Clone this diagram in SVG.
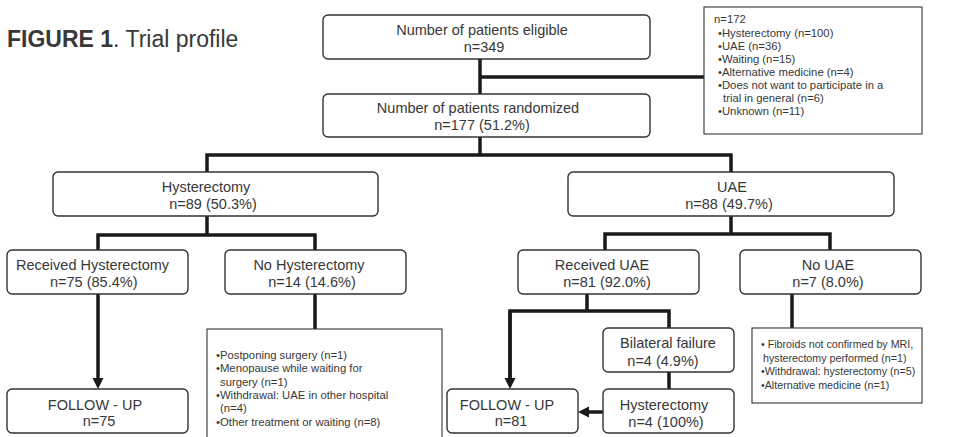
<svg xmlns="http://www.w3.org/2000/svg" width="973" height="437" viewBox="0 0 973 437">
<style>
  text { font-family: "Liberation Sans", Arial, sans-serif; fill: #383838; }
  .t { font-size: 14.5px; text-anchor: middle; }
  .ts { font-size: 14.5px; }
  .i { font-size: 11.3px; }
  .r { font-size: 10.7px; }
  .box { fill: #fff; stroke: #333; stroke-width: 1.4; }
  .ibox { fill: #fff; stroke: #333; stroke-width: 1.1; }
  .c { fill: none; stroke: #1a1a1a; stroke-width: 3.5; }
</style>
<defs>
  <marker id="arr" markerUnits="userSpaceOnUse" markerWidth="12" markerHeight="12" refX="0" refY="5.5" orient="auto">
    <path d="M0,0 L11,5.5 L0,11 z" fill="#1a1a1a"/>
  </marker>
</defs>
<rect width="973" height="437" fill="#fff"/>

<text x="7" y="47" style="font-size:23px"><tspan font-weight="bold">FIGURE 1</tspan><tspan>. Trial profile</tspan></text>

<g id="connectors">
  <path class="c" d="M480 59 V94"/>
  <path class="c" d="M480 77 H704"/>
  <path class="c" d="M480 137 V155"/>
  <path class="c" d="M207 172 V155 H731 V172"/>
  <path class="c" d="M207 216 V235"/>
  <path class="c" d="M98 250 V235 H315 V250"/>
  <path class="c" d="M731 216 V234"/>
  <path class="c" d="M605 250 V234 H830 V250"/>
  <path class="c" d="M98 294 V378" marker-end="url(#arr)"/>
  <path class="c" d="M315 294 V329"/>
  <path class="c" d="M587 294 V311"/>
  <path class="c" d="M510 378 V311 H669 V328"/>
  <path class="c" d="M510 311 V378" marker-end="url(#arr)"/>
  <path class="c" d="M669 372 V389"/>
  <path class="c" d="M603 412 H589" marker-end="url(#arr)"/>
  <path class="c" d="M792 294 V328"/>
</g>

<g id="eligible">
  <rect class="box" x="323" y="15" width="327" height="44" rx="5"/>
  <text class="t" x="482" y="35">Number of patients eligible</text>
  <text class="t" x="484" y="52">n=349</text>
</g>

<g id="excluded">
  <rect class="ibox" x="704" y="7" width="218" height="127"/>
  <text class="i" x="714" y="23">n=172</text>
  <text class="i" x="718" y="37">•Hysterectomy (n=100)</text>
  <text class="i" x="718" y="50">•UAE (n=36)</text>
  <text class="i" x="718" y="63">•Waiting (n=15)</text>
  <text class="i" x="718" y="76">•Alternative medicine (n=4)</text>
  <text class="i" x="718" y="89">•Does not want to participate in a</text>
  <text class="i" x="723" y="102">trial in general (n=6)</text>
  <text class="i" x="718" y="115">•Unknown (n=11)</text>
</g>

<g id="randomized">
  <rect class="box" x="323" y="94" width="327" height="43" rx="5"/>
  <text class="t" x="478" y="113">Number of patients randomized</text>
  <text class="t" x="482" y="130">n=177 (51.2%)</text>
</g>

<g id="hysterectomy">
  <rect class="box" x="53" y="172" width="325" height="44" rx="5"/>
  <text class="t" x="206" y="192">Hysterectomy</text>
  <text class="t" x="213" y="209">n=89 (50.3%)</text>
</g>

<g id="uae">
  <rect class="box" x="568" y="172" width="326" height="44" rx="5"/>
  <text class="t" x="732" y="192">UAE</text>
  <text class="t" x="729" y="209">n=88 (49.7%)</text>
</g>

<g id="received-hysterectomy">
  <rect class="box" x="7" y="250" width="181" height="44" rx="5"/>
  <text class="ts" x="16" y="270">Received Hysterectomy</text>
  <text class="ts" x="50" y="287">n=75 (85.4%)</text>
</g>

<g id="no-hysterectomy">
  <rect class="box" x="225" y="250" width="181" height="44" rx="5"/>
  <text class="t" x="309" y="270">No Hysterectomy</text>
  <text class="t" x="312" y="287">n=14 (14.6%)</text>
</g>

<g id="received-uae">
  <rect class="box" x="518" y="250" width="181" height="44" rx="5"/>
  <text class="t" x="602" y="270">Received UAE</text>
  <text class="t" x="607" y="287">n=81 (92.0%)</text>
</g>

<g id="no-uae">
  <rect class="box" x="740" y="250" width="181" height="44" rx="5"/>
  <text class="t" x="828" y="270">No UAE</text>
  <text class="t" x="828" y="287">n=7 (8.0%)</text>
</g>

<g id="no-hysterectomy-reasons">
  <rect class="ibox" x="207" y="329" width="235" height="120"/>
  <text class="i" x="216" y="359">•Postponing surgery (n=1)</text>
  <text class="i" x="216" y="372">•Menopause while waiting for</text>
  <text class="i" x="220" y="386">surgery (n=1)</text>
  <text class="i" x="216" y="399">•Withdrawal: UAE in other hospital</text>
  <text class="i" x="220" y="412">(n=4)</text>
  <text class="i" x="216" y="426">•Other treatment or waiting  (n=8)</text>
</g>

<g id="follow-up-hysterectomy">
  <rect class="box" x="7" y="389" width="181" height="44" rx="5"/>
  <text class="t" x="95" y="410">FOLLOW - UP</text>
  <text class="t" x="99" y="426">n=75</text>
</g>

<g id="bilateral-failure">
  <rect class="box" x="603" y="328" width="131" height="44" rx="5"/>
  <text class="t" x="668" y="348">Bilateral failure</text>
  <text class="t" x="663" y="366">n=4 (4.9%)</text>
</g>

<g id="uae-hysterectomy">
  <rect class="box" x="603" y="389" width="131" height="44" rx="5"/>
  <text class="t" x="664" y="410">Hysterectomy</text>
  <text class="t" x="666" y="427">n=4 (100%)</text>
</g>

<g id="follow-up-uae">
  <rect class="box" x="447" y="389" width="131" height="44" rx="5"/>
  <text class="t" x="507" y="410">FOLLOW - UP</text>
  <text class="t" x="511" y="426">n=81</text>
</g>

<g id="no-uae-reasons">
  <rect class="ibox" x="752" y="328" width="170" height="75"/>
  <text class="r" x="761" y="348">• Fibroids not confirmed by MRI,</text>
  <text class="r" x="763" y="362">hysterectomy performed (n=1)</text>
  <text class="r" x="761" y="375">•Withdrawal: hysterectomy  (n=5)</text>
  <text class="r" x="761" y="389">•Alternative medicine (n=1)</text>
</g>
</svg>
